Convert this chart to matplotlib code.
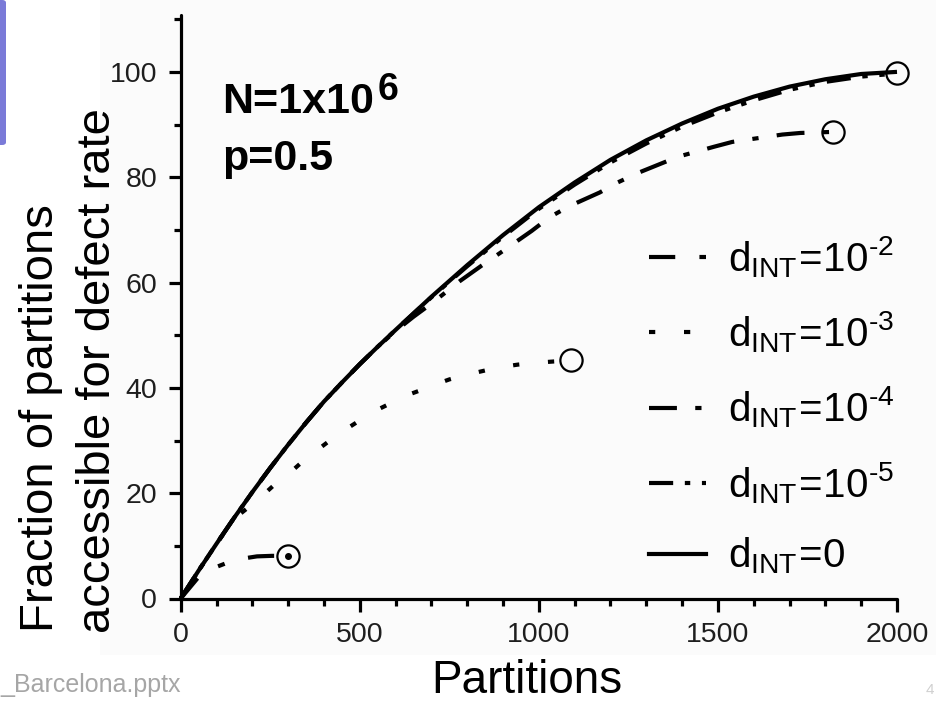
import matplotlib
matplotlib.use("Agg")
import matplotlib.pyplot as plt
from matplotlib.patches import Rectangle, FancyBboxPatch
from matplotlib.ticker import MultipleLocator
from matplotlib.lines import Line2D

plt.rcParams['font.family'] = ['Liberation Sans', 'DejaVu Sans']
plt.rcParams['mathtext.fontset'] = 'custom'
plt.rcParams['mathtext.rm'] = 'Liberation Sans'
plt.rcParams['mathtext.it'] = 'Liberation Sans'
plt.rcParams['mathtext.bf'] = 'Liberation Sans:bold'

# ---------------- data ----------------
x_d0 = [0, 50, 100, 150, 200, 250, 300, 350, 400, 450, 500, 550, 600, 700,
        800, 900, 1000, 1100, 1200, 1300, 1400, 1500, 1600, 1700, 1800, 1900,
        2000]
y_d0 = [0, 5.3, 10.4, 15.4, 20.2, 24.8, 29.2, 33.4, 37.4, 41.0, 44.5, 47.8,
        51.0, 57.3, 63.3, 69.0, 74.3, 79.0, 83.3, 87.0, 90.2, 93.0, 95.3,
        97.2, 98.6, 99.6, 100.0]

x_d5 = [0, 50, 100, 150, 200, 250, 300, 350, 400, 450, 500, 550, 600, 700,
        800, 900, 1000, 1100, 1200, 1300, 1400, 1500, 1600, 1700, 1800, 1900,
        2000]
y_d5 = [0, 5.3, 10.4, 15.4, 20.2, 24.8, 29.2, 33.4, 37.4, 41.0, 44.5, 47.8,
        51.0, 57.2, 63.1, 68.7, 74.0, 78.6, 82.8, 86.4, 89.6, 92.3, 94.6,
        96.6, 98.1, 99.1, 99.7]

x_d4 = [0, 50, 100, 150, 200, 250, 300, 350, 400, 450, 500, 550, 600, 650,
        700, 780, 840, 900, 980, 1030, 1085, 1170, 1220, 1280, 1360, 1400,
        1490, 1540, 1600, 1680, 1730, 1820]
y_d4 = [0, 5.3, 10.4, 15.4, 20.2, 24.8, 29.2, 33.4, 37.4, 41.0, 44.5, 47.8,
        50.8, 53.5, 56.0, 60.3, 63.2, 66.0, 69.8, 72.4, 74.5, 77.1, 79.0,
        80.9, 83.1, 84.1, 85.8, 86.7, 87.3, 88.1, 88.4, 88.6]

x_d3 = [0, 50, 100, 150, 213, 260, 307, 350, 397, 440, 488, 530, 578, 620,
        668, 709, 750, 799, 850, 891, 940, 981, 1040, 1090]
y_d3 = [0, 5.3, 10.4, 15.2, 18.6, 21.5, 24.0, 26.6, 29.0, 31.2, 33.3, 35.2,
        36.8, 38.3, 39.5, 40.6, 41.6, 42.5, 43.3, 43.9, 44.4, 44.7, 45.0,
        45.2]

x_d2 = [0, 55, 100, 138, 175, 213, 255, 300]
y_d2 = [0, 4.5, 6.0, 7.0, 7.6, 8.0, 8.1, 8.1]

labels = [r'$\mathregular{d_{INT}\!=\!10^{\text{-}2}}$',
          r'$\mathregular{d_{INT}\!=\!10^{\text{-}3}}$',
          r'$\mathregular{d_{INT}\!=\!10^{\text{-}4}}$',
          r'$\mathregular{d_{INT}\!=\!10^{\text{-}5}}$',
          r'$\mathregular{d_{INT}\!=\!0}$']

x_ticks = [0, 500, 1000, 1500, 2000]
y_ticks = [0, 20, 40, 60, 80, 100]

# ---------------- figure ----------------
W, H = 937, 702
fig = plt.figure(figsize=(W / 100, H / 100), dpi=100, facecolor='white')


def fx(px):
    return px / W


def fy(py):
    return 1 - py / H


# slide background pieces
fig.patches.append(Rectangle((fx(100), fy(655)), fx(837), 655 / H,
                             transform=fig.transFigure, facecolor='#fbfbfb',
                             edgecolor='none', zorder=-10))
fig.patches.append(FancyBboxPatch((fx(-10), fy(145)), fx(16), 145 / H,
                                  boxstyle='round,pad=0,rounding_size=0.004',
                                  transform=fig.transFigure,
                                  facecolor='#7a7ad8', edgecolor='none',
                                  zorder=-5))

ax = fig.add_axes([fx(180.7), fy(598.5), fx(897 - 180.7), (598.5 - 15) / H])
ax.set_facecolor('none')
ax.set_xlim(0, 2000)
ax.set_ylim(0, 110.8)

lw = 3.0
pat2 = (6.3, 5.8, 1.7, 5.8)
pat3 = (1.5, 6.9)
pat4 = (6.7, 4.4, 1.5, 4.4)
pat5 = (5.8, 2.8, 1.3, 2.8, 1.3, 3.0)
common = dict(color='black', lw=lw, clip_on=False, marker='o', markersize=16,
              markerfacecolor='none', markeredgecolor='black',
              markeredgewidth=1.6, markevery=[-1], solid_capstyle='butt',
              dash_capstyle='butt')

l2, = ax.plot(x_d2, y_d2, dashes=pat2, **common)
ax.plot([x_d2[-1]], [y_d2[-1]], marker='o', markersize=4, color='black',
        linestyle='none', clip_on=False)
l3, = ax.plot(x_d3, y_d3, dashes=pat3, **common)
l4, = ax.plot(x_d4, y_d4, dashes=pat4, **common)
l5, = ax.plot(x_d5, y_d5, dashes=pat5, **common)
c0 = dict(common)
c0['marker'] = None
l0, = ax.plot(x_d0, y_d0, **c0)

# axes styling
for s in ['top', 'right']:
    ax.spines[s].set_visible(False)
for s in ['left', 'bottom']:
    ax.spines[s].set_linewidth(2.3)
    ax.spines[s].set_capstyle('round')
ax.set_xticks(x_ticks)
ax.set_yticks(y_ticks)
ax.xaxis.set_minor_locator(MultipleLocator(100))
ax.yaxis.set_minor_locator(MultipleLocator(10))
ax.tick_params(which='major', direction='out', length=9, width=2.3,
               labelsize=20.5, labelcolor='#1e1e1e', pad=8)
ax.tick_params(which='minor', direction='out', length=5, width=2.3)

# legend (handles share the line styles of the plotted series)
h2 = Line2D([], [], color='black', lw=lw, dashes=pat2)
h3 = Line2D([], [], color='black', lw=lw, dashes=pat3)
h4 = Line2D([], [], color='black', lw=lw, dashes=pat4)
h5 = Line2D([], [], color='black', lw=lw, dashes=pat5)
h0 = Line2D([], [], color='black', lw=lw)
ax.legend([h2, h3, h4, h5, h0], labels, loc='upper left',
          bbox_to_anchor=(fx(649), fy(234)), bbox_transform=fig.transFigure,
          frameon=False, fontsize=29, handlelength=1.42, handletextpad=0.55,
          labelspacing=0.74, borderpad=0, borderaxespad=0)

# annotation text
fig.text(fx(222), fy(113), 'N=1x10', fontsize=31, fontweight='bold',
         ha='left', va='baseline')
fig.text(fx(378), fy(100), '6', fontsize=27, fontweight='bold',
         ha='left', va='baseline')
fig.text(fx(222), fy(170), 'p=0.5', fontsize=31, fontweight='bold',
         ha='left', va='baseline')

# axis labels
fig.text(fx(527), fy(693), 'Partitions', fontsize=33, ha='center',
         va='baseline')
fig.text(fx(53), fy(632), 'Fraction of partitions', fontsize=34,
         rotation=90, rotation_mode='anchor', ha='left', va='baseline')
fig.text(fx(110), fy(633), 'accessible for defect rate', fontsize=34,
         rotation=90, rotation_mode='anchor', ha='left', va='baseline')

# slide footer remnants
fig.text(fx(0), fy(692), '_Barcelona.pptx', fontsize=18, color='#a6a6a6',
         ha='left', va='baseline')
fig.text(fx(926), fy(694), '4', fontsize=11, color='#d0d0d0',
         ha='left', va='baseline')

fig.savefig('out.png', dpi=100, facecolor=fig.get_facecolor())
